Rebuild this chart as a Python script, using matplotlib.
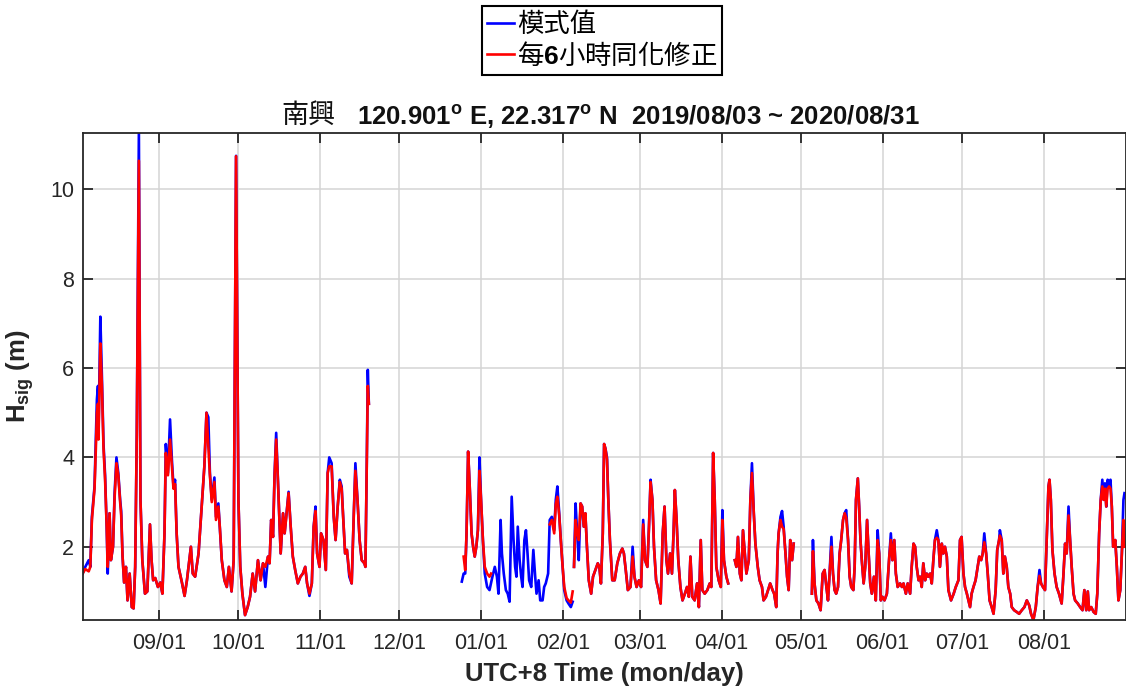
import numpy as np
import pandas as pd
import matplotlib
matplotlib.use('Agg')
import matplotlib.pyplot as plt
import matplotlib.dates as mdates

plt.rcParams.update({
    'font.family': ['Liberation Sans', 'Noto Sans CJK TC', 'DejaVu Sans'],
    'mathtext.fontset': 'custom',
    'mathtext.rm': 'Liberation Sans',
    'mathtext.bf': 'Liberation Sans:bold',
    'mathtext.it': 'Liberation Sans:italic',
})

nan = np.nan
start = pd.Timestamp('2019-08-03')

# ---------------- data (days since 2019/08/03, Hsig in m) ----------------
day_offset = [
    # Aug - Nov 2019
    0.0, 1.0, 2.3, 2.9, 3.5, 4.5, 5.0, 5.4, 5.8, 6.0, 6.7, 7.3, 7.9, 8.5, 9.1, 9.5,
    10.2, 10.7, 11.5, 12.1, 12.8, 13.5, 14.2, 14.6, 15.1, 15.7, 16.4, 17.0, 17.8,
    18.6, 19.3, 19.9, 20.5, 21.3, 21.9, 22.6, 23.6, 24.5, 25.5, 26.1, 26.7, 27.5,
    28.5, 29.4, 30.2, 31.0, 31.5, 32.3, 33.1, 33.8, 34.4, 35.0, 35.6, 36.3, 37.6,
    38.6, 39.5, 40.1, 41.0, 41.7, 42.6, 43.9, 45.1, 46.1, 46.9, 47.6, 48.2, 48.9,
    49.9, 50.5, 51.4, 52.0, 52.7, 53.7, 54.6, 55.4, 56.4, 57.2, 58.1, 59.0, 59.7,
    60.5, 61.5, 62.5, 63.4, 64.4, 65.3, 66.4, 67.4, 68.3, 69.2, 70.2, 70.8, 71.4,
    72.1, 72.7, 73.3, 74.0, 75.0, 75.9, 76.5, 77.1, 78.0, 78.8, 79.6, 80.5, 81.5,
    82.5, 83.4, 84.3, 85.0, 85.9, 86.8, 87.5, 88.2, 88.8, 89.7, 90.3, 91.2, 92.1,
    92.8, 93.4, 94.3, 95.1, 95.8, 96.6, 97.4, 98.1, 98.6, 99.4, 100.1, 101.0, 101.9,
    102.7, 103.3, 104.1, 104.9, 105.7, 106.7, 107.1, 107.6, 108.0, 108.4, 108.6,
    # Dec 2019 - Feb 2020
    143.6, 144.3, 144.9, 145.4, 146.0, 146.6, 147.3, 147.9, 148.5, 149.1, 149.7,
    150.3, 150.9, 151.6, 152.3, 153.2, 154.1, 154.7, 155.2, 156.1, 156.9, 157.5,
    158.3, 158.8, 159.5, 160.3, 161.0, 161.7, 162.5, 163.2, 163.8, 164.3, 164.8,
    165.5, 166.1, 166.6, 167.3, 167.9, 168.5, 169.1, 169.9, 170.7, 171.4, 171.9,
    172.7, 173.3, 174.2, 174.8, 175.4, 176.3, 176.9, 177.7, 178.6, 179.2, 179.8,
    180.5, 181.1, 181.8, 182.4, 183.3, 184.0, 184.9, 185.6, 185.85,
    # Feb - Apr 2020
    186.1, 186.7, 187.3, 187.9, 188.6, 189.2, 189.8, 190.4, 191.0, 191.7, 192.6,
    193.3, 194.2, 195.1, 195.7, 196.3, 197.0, 197.5, 198.0, 198.6, 199.1, 199.7,
    200.6, 201.5, 202.5, 203.5, 204.4, 205.0, 205.7, 206.5, 207.5, 208.3, 209.0,
    209.8, 210.7, 211.5, 212.3, 213.0, 213.9, 214.5, 215.1, 215.8, 216.4, 217.2,
    218.1, 218.9, 219.7, 220.4, 221.1, 221.7, 222.5, 223.2, 223.8, 224.3, 224.9,
    225.6, 226.4, 227.2, 228.1, 228.9, 229.6, 230.2, 230.9, 231.8, 232.7, 233.4,
    234.1, 234.7, 235.6, 236.6, 237.5, 238.1, 238.8, 239.4, 240.0, 240.9, 241.7,
    242.3, 242.9, 243.8, 244.5, 245.5,
    # Apr 2020
    247.0, 247.6, 248.2, 248.9, 249.5, 250.1, 250.8, 251.4, 252.3, 252.9, 253.5,
    254.2, 254.8, 255.7, 256.4, 257.3, 257.9, 258.8, 259.6, 260.4, 261.3, 261.9,
    262.7, 263.2, 263.6, 264.3, 264.9, 265.5, 266.2, 266.8, 267.4, 268.0, 268.7,
    269.3, 270.0,
    # May - Aug 2020
    276.2, 276.6, 277.2, 277.9, 278.7, 279.5, 280.3, 281.0, 281.7, 282.3, 282.9,
    283.6, 284.2, 284.8, 285.4, 286.1, 286.7, 287.3, 288.0, 288.6, 289.2, 289.9,
    290.5, 291.1, 291.9, 292.4, 292.9, 293.6, 294.1, 294.6, 295.1, 295.8, 296.4,
    297.1, 297.7, 298.3, 298.9, 299.7, 300.4, 301.1, 301.7, 302.3, 302.9, 303.7,
    304.6, 305.5, 306.1, 306.7, 307.4, 308.0, 308.7, 309.6, 310.3, 310.9, 311.8,
    312.5, 313.4, 314.0, 314.7, 315.3, 315.9, 316.6, 317.2, 317.8, 318.4, 319.1,
    319.7, 320.3, 321.0, 321.6, 322.2, 322.8, 323.5, 324.1, 324.7, 325.4, 326.0,
    326.6, 327.3, 327.9, 328.9, 329.9, 330.7, 331.7, 332.3, 332.9, 333.6, 334.2,
    334.9, 335.5, 336.1, 336.7, 337.4, 338.2, 339.0, 339.6, 340.3, 340.9, 341.5,
    342.2, 342.8, 343.5, 344.3, 345.0, 345.8, 346.4, 347.1, 347.4, 348.1, 348.7,
    349.3, 350.0, 350.6, 351.3, 351.9, 352.8, 353.8, 354.7, 355.7, 356.7, 357.6,
    358.5, 359.2, 360.1, 361.0, 361.7, 362.4, 363.0, 363.7, 364.5, 365.2, 365.8,
    366.2, 366.7, 367.3, 368.1, 368.9, 369.8, 370.8, 371.5, 372.1, 372.7, 373.4,
    374.0, 374.6, 375.3, 375.9, 376.9, 377.8, 378.7, 379.4, 380.1, 380.7, 381.2,
    382.0, 382.9, 383.7, 384.3, 385.0, 385.6, 386.2, 386.7, 387.2, 387.7, 388.2,
    388.8, 389.3, 389.8, 390.3, 391.1, 391.7, 392.3, 393.0, 393.6, 394.2, 394.6,
]

# model output (blue)
model_hs = [
    1.40, 1.55, 1.70, 1.55, 2.67, 3.35, 4.40, 5.30, 5.60, 4.50, 7.15, 5.80, 4.30, 3.60, 2.45, 1.40,
    2.75, 1.70, 2.00, 3.20, 4.00, 3.65, 3.05, 2.80, 1.80, 1.20, 1.55, 0.80, 1.40,
    0.65, 0.62, 1.55, 4.50, 11.30, 3.05, 1.70, 0.95, 1.00, 2.50, 1.70, 1.25, 1.30,
    1.10, 1.20, 0.95, 2.30, 4.30, 3.65, 4.85, 3.95, 3.35, 3.50, 2.30, 1.55, 1.20,
    0.90, 1.25, 1.55, 2.00, 1.40, 1.33, 1.85, 2.90, 3.80, 5.00, 4.90, 3.65, 3.05,
    3.55, 2.67, 2.97, 2.40, 1.70, 1.25, 1.10, 1.55, 1.00, 1.70, 10.75, 3.05, 1.55,
    0.95, 0.47, 0.65, 0.88, 1.40, 1.00, 1.70, 1.25, 1.63, 1.10, 1.78, 1.63, 2.60,
    2.22, 3.65, 4.55, 3.42, 1.85, 2.75, 2.30, 2.67, 3.23, 2.45, 1.78, 1.48, 1.18,
    1.33, 1.40, 1.55, 1.18, 0.90, 1.18, 2.45, 2.90, 1.85, 1.55, 2.30, 2.15, 1.48,
    3.65, 4.00, 3.87, 2.67, 2.15, 2.90, 3.50, 3.35, 2.75, 1.85, 1.93, 1.33, 1.18,
    2.75, 3.87, 3.05, 2.15, 1.70, 1.63, 1.55, 3.80, 5.96, 5.20, nan,
    1.22, 1.40, 1.40, 2.30, 4.13, 3.35, 2.30, 2.00, 1.78, 2.00, 2.37,
    4.00, 3.05, 2.15, 1.40, 1.10, 1.03, 1.20, 1.33, 1.55, 1.33, 0.95,
    2.60, 1.85, 1.40, 1.03, 0.95, 0.77, 3.12, 2.15, 1.55, 1.33, 2.45,
    1.70, 1.33, 1.10, 2.15, 2.37, 1.85, 1.25, 1.10, 1.93, 1.33, 0.95,
    1.25, 0.80, 0.80, 1.10, 1.18, 1.40, 2.60, 2.67, 2.37, 3.05, 3.35,
    2.75, 2.15, 1.55, 1.03, 0.80, 0.73, 0.65, 0.77, nan,
    1.55, 2.97, 2.30, 1.70, 2.97, 2.90, 2.45, 2.75, 2.00, 1.25, 0.95,
    1.33, 1.48, 1.63, 1.55, 1.18, 2.30, 4.30, 4.20, 4.00, 3.05, 2.15,
    1.25, 1.25, 1.63, 1.85, 1.96, 1.85, 1.48, 1.03, 1.10, 2.00, 1.33,
    1.10, 1.25, 1.10, 2.60, 1.70, 1.55, 2.45, 3.50, 3.05, 2.00, 1.25,
    1.03, 0.73, 2.30, 2.90, 1.70, 1.40, 1.85, 1.40, 2.30, 3.27, 2.67,
    1.70, 1.10, 0.80, 0.95, 1.10, 0.88, 1.78, 0.88, 0.80, 1.18, 0.65,
    2.15, 1.03, 0.95, 1.03, 1.18, 1.10, 4.10, 3.05, 1.55, 1.25, 1.10,
    2.82, 1.70, 1.33, 1.18, nan,
    1.70, 1.55, 2.22, 1.40, 1.25, 2.37, 1.85, 1.40, 1.70, 3.05, 3.87,
    2.75, 2.07, 1.55, 1.25, 1.10, 0.80, 0.88, 1.03, 1.18, 1.03, 0.95,
    0.65, 1.85, 2.30, 2.67, 2.80, 2.45, 1.85, 1.33, 1.03, 2.15, 1.70,
    2.07, nan,
    0.95, 2.15, 1.18, 0.80, 0.73, 0.58, 1.40, 1.48, 1.10, 0.80, 1.40,
    2.22, 1.40, 1.03, 0.95, 1.10, 1.85, 2.15, 2.60, 2.75, 2.82, 2.15,
    1.33, 1.10, 1.03, 1.55, 3.05, 3.53, 2.90, 2.15, 1.70, 1.18, 1.55,
    2.60, 1.85, 1.18, 0.95, 1.33, 0.80, 2.37, 1.85, 0.80, 0.88, 0.80,
    0.95, 1.78, 2.30, 1.70, 2.15, 1.40, 1.10, 1.18, 1.10, 1.18, 0.95,
    1.18, 0.95, 1.55, 2.07, 2.00, 1.55, 1.25, 1.33, 1.10, 1.63, 1.25,
    1.40, 1.33, 1.40, 1.18, 1.70, 2.15, 2.37, 2.15, 1.55, 2.07, 1.85,
    2.00, 1.78, 1.03, 0.80, 0.95, 1.10, 1.25, 2.15, 2.22, 1.40, 1.10,
    0.95, 0.80, 0.65, 0.95, 1.10, 1.25, 1.55, 1.78, 1.70, 1.85, 2.30,
    1.85, 1.40, 0.80, 0.65, 0.50, 1.03, 1.93, 2.15, 2.37, 2.15, 1.40,
    1.78, 1.55, 1.10, 0.95, 0.65, 0.58, 0.54, 0.50, 0.58, 0.65, 0.80,
    0.69, 0.50, 0.36, 0.65, 1.10, 1.48, 1.18, 1.10, 1.03, 2.30, 3.35,
    3.50, 3.05, 1.93, 1.40, 1.10, 0.95, 0.73, 1.40, 2.07, 1.85, 2.90,
    2.15, 1.55, 0.95, 0.80, 0.73, 0.65, 0.58, 1.03, 0.58, 1.00, 0.58,
    0.65, 0.54, 0.50, 0.95, 2.30, 3.05, 3.50, 3.05, 3.42, 2.90, 3.50,
    3.35, 3.50, 2.90, 2.00, 2.15, 1.55, 0.80, 1.03, 1.85, 3.05, 3.20,
]

# assimilated every 6 h (red)
assim_hs = [
    1.40, 1.50, 1.45, 1.55, 2.60, 3.30, 4.20, 5.00, 5.20, 4.40, 6.55, 5.60, 4.20, 3.50, 2.45, 1.55,
    2.75, 1.70, 2.00, 3.10, 3.87, 3.60, 3.00, 2.70, 1.80, 1.20, 1.55, 0.80, 1.40,
    0.65, 0.62, 1.55, 4.50, 10.64, 3.05, 1.70, 0.95, 1.00, 2.50, 1.70, 1.25, 1.30,
    1.10, 1.20, 0.95, 2.30, 4.10, 3.60, 4.40, 3.80, 3.30, 3.40, 2.30, 1.55, 1.20,
    0.90, 1.25, 1.55, 2.00, 1.40, 1.33, 1.85, 2.90, 3.80, 5.00, 4.25, 3.60, 3.00,
    3.45, 2.60, 2.90, 2.40, 1.70, 1.25, 1.10, 1.55, 1.00, 1.70, 10.74, 3.05, 1.55,
    0.95, 0.47, 0.65, 0.88, 1.40, 1.00, 1.70, 1.25, 1.63, 1.55, 1.78, 1.63, 2.60,
    2.22, 3.60, 4.40, 3.42, 1.85, 2.75, 2.30, 2.67, 3.20, 2.45, 1.78, 1.48, 1.18,
    1.33, 1.40, 1.55, 1.18, 0.95, 1.18, 2.45, 2.80, 1.85, 1.55, 2.30, 2.15, 1.48,
    3.65, 3.80, 3.80, 2.67, 2.15, 2.90, 3.45, 3.30, 2.75, 1.85, 1.93, 1.40, 1.18,
    2.75, 3.70, 3.05, 2.15, 1.70, 1.63, 1.55, 3.80, 5.60, 5.20, nan,
    nan, 1.78, 1.48, 2.30, 4.13, 3.35, 2.30, 2.00, 1.78, 2.00, 2.37,
    3.70, 3.05, 2.15, 1.55, 1.40, 1.33, 1.40, nan, nan, nan, nan,
    nan, nan, nan, nan, nan, nan, nan, nan, nan, nan, nan,
    nan, nan, nan, nan, nan, nan, nan, nan, nan, nan, nan,
    nan, nan, nan, nan, nan, nan, 2.50, 2.60, 2.30, 2.95, 3.12,
    2.70, 2.15, 1.55, 1.10, 0.85, 0.80, 0.75, 1.00, nan,
    1.55, 2.60, 2.30, 2.15, 2.97, 2.90, 2.45, 2.75, 2.00, 1.25, 0.95,
    1.33, 1.48, 1.63, 1.55, 1.18, 2.30, 4.30, 4.20, 3.95, 3.05, 2.15,
    1.25, 1.25, 1.63, 1.85, 1.96, 1.85, 1.48, 1.03, 1.10, 1.78, 1.33,
    1.10, 1.25, 1.10, 2.50, 1.70, 1.55, 2.45, 3.45, 3.05, 2.00, 1.25,
    1.03, 0.73, 2.30, 2.90, 1.70, 1.40, 1.85, 1.40, 2.30, 3.27, 2.67,
    1.70, 1.10, 0.80, 0.95, 1.10, 0.88, 1.78, 0.88, 0.80, 1.18, 0.65,
    2.15, 1.03, 0.95, 1.03, 1.18, 1.10, 4.10, 3.05, 1.55, 1.25, 1.10,
    2.60, 1.70, 1.33, 1.18, nan,
    1.70, 1.55, 2.22, 1.40, 1.25, 2.37, 1.85, 1.40, 1.70, 3.05, 3.65,
    2.75, 2.07, 1.55, 1.25, 1.10, 0.80, 0.88, 1.03, 1.18, 1.03, 0.95,
    0.65, 1.85, 2.30, 2.60, 2.45, 2.40, 1.85, 1.33, 1.03, 2.15, 1.70,
    2.07, nan,
    0.95, 1.90, 1.18, 0.80, 0.73, 0.58, 1.40, 1.48, 1.10, 0.80, 1.40,
    2.00, 1.40, 1.03, 0.95, 1.10, 1.85, 2.15, 2.60, 2.75, 2.65, 2.15,
    1.33, 1.10, 1.03, 1.55, 3.05, 3.53, 2.90, 2.15, 1.70, 1.18, 1.55,
    2.60, 1.85, 1.18, 0.95, 1.33, 0.80, 2.15, 1.85, 0.80, 0.88, 0.80,
    0.95, 1.78, 2.15, 1.70, 2.15, 1.40, 1.10, 1.18, 1.10, 1.18, 0.95,
    1.18, 0.95, 1.55, 2.07, 2.00, 1.55, 1.25, 1.33, 1.10, 1.63, 1.25,
    1.40, 1.33, 1.40, 1.18, 1.70, 2.15, 2.20, 2.15, 1.55, 2.07, 1.85,
    2.00, 1.78, 1.03, 0.80, 0.95, 1.10, 1.25, 2.15, 2.22, 1.40, 1.10,
    0.95, 0.80, 0.65, 0.95, 1.10, 1.25, 1.55, 1.78, 1.70, 1.85, 2.10,
    1.85, 1.40, 0.80, 0.65, 0.50, 1.03, 1.93, 2.15, 2.25, 2.15, 1.40,
    1.78, 1.55, 1.10, 0.95, 0.65, 0.58, 0.54, 0.50, 0.58, 0.65, 0.80,
    0.69, 0.50, 0.36, 0.65, 1.10, 1.35, 1.18, 1.10, 1.03, 2.30, 3.35,
    3.50, 3.05, 1.93, 1.40, 1.10, 0.95, 0.73, 1.40, 2.07, 1.85, 2.70,
    2.15, 1.55, 0.95, 0.80, 0.73, 0.65, 0.58, 1.03, 0.58, 1.00, 0.58,
    0.65, 0.54, 0.50, 0.95, 2.30, 3.05, 3.35, 3.05, 3.30, 2.90, 3.30,
    3.35, 3.30, 2.90, 2.00, 2.15, 1.55, 0.80, 1.03, 1.85, 2.60, 2.00,
]

legend_labels = ['模式值', '每$\\mathbf{6}$小時同化修正']
title_site = '南興'
title_text = r'120.901$^{\mathbf{o}}$ E, 22.317$^{\mathbf{o}}$ N  2019/08/03 ~ 2020/08/31'
month_ticks = pd.date_range('2019-09-01', '2020-08-01', freq='MS')

# ---------------------------------------------------------------------------
t = start + pd.to_timedelta(np.array(day_offset), unit='D')

fig = plt.figure(figsize=(11.26, 6.9), dpi=100)
ax = fig.add_axes([0.0734, 0.1014, 0.9262, 0.7058])

l1, = ax.plot(t, np.array(model_hs), color='#0000ff', lw=1.9)
l2, = ax.plot(t, np.array(assim_hs), color='#ff0000', lw=1.9)

ax.set_xlim(start, pd.Timestamp('2020-09-01'))
ax.set_ylim(0.36, 11.26)
ax.set_xticks(month_ticks)
ax.xaxis.set_major_formatter(mdates.DateFormatter('%m/%d'))
ax.set_yticks([2, 4, 6, 8, 10])

ax.grid(True, color='#d4d4d4', lw=1.1)
ax.set_axisbelow(True)
for s in ax.spines.values():
    s.set_color('#262626')
    s.set_linewidth(1.3)
ax.tick_params(direction='in', top=True, right=True, length=7, width=1.3,
               color='#262626', labelsize=15.5, labelcolor='#262626')
ax.tick_params(axis='x', pad=9)
ax.tick_params(axis='y', pad=6)

ax.set_xlabel('UTC+8 Time (mon/day)', fontsize=18.5, fontweight='bold',
              color='#262626', labelpad=6)
ax.set_ylabel(r'$\mathbf{H_{sig}}$ (m)', fontsize=18.5, fontweight='bold',
              color='#262626', labelpad=10)

fig.text(357 / 1126, 1 - 125 / 690, title_text, fontsize=18.5, fontweight='bold',
         ha='left', va='baseline', color='#111111')
fig.text(281 / 1126, 1 - 124 / 690, title_site, fontsize=19.5,
         family=['Noto Sans CJK TC'], ha='left', va='baseline', color='#111111')

leg = fig.legend([l1, l2], legend_labels, loc='upper center',
                 bbox_to_anchor=(602 / 1126, 1 - 6 / 690),
                 prop={'family': ['Noto Sans CJK TC'], 'size': 19},
                 fancybox=False, edgecolor='black', framealpha=1,
                 handlelength=1.0, handletextpad=0.12, borderpad=0.2,
                 labelspacing=0.12, borderaxespad=0)
leg.get_frame().set_linewidth(1.5)

fig.savefig('out.png', dpi=100)
